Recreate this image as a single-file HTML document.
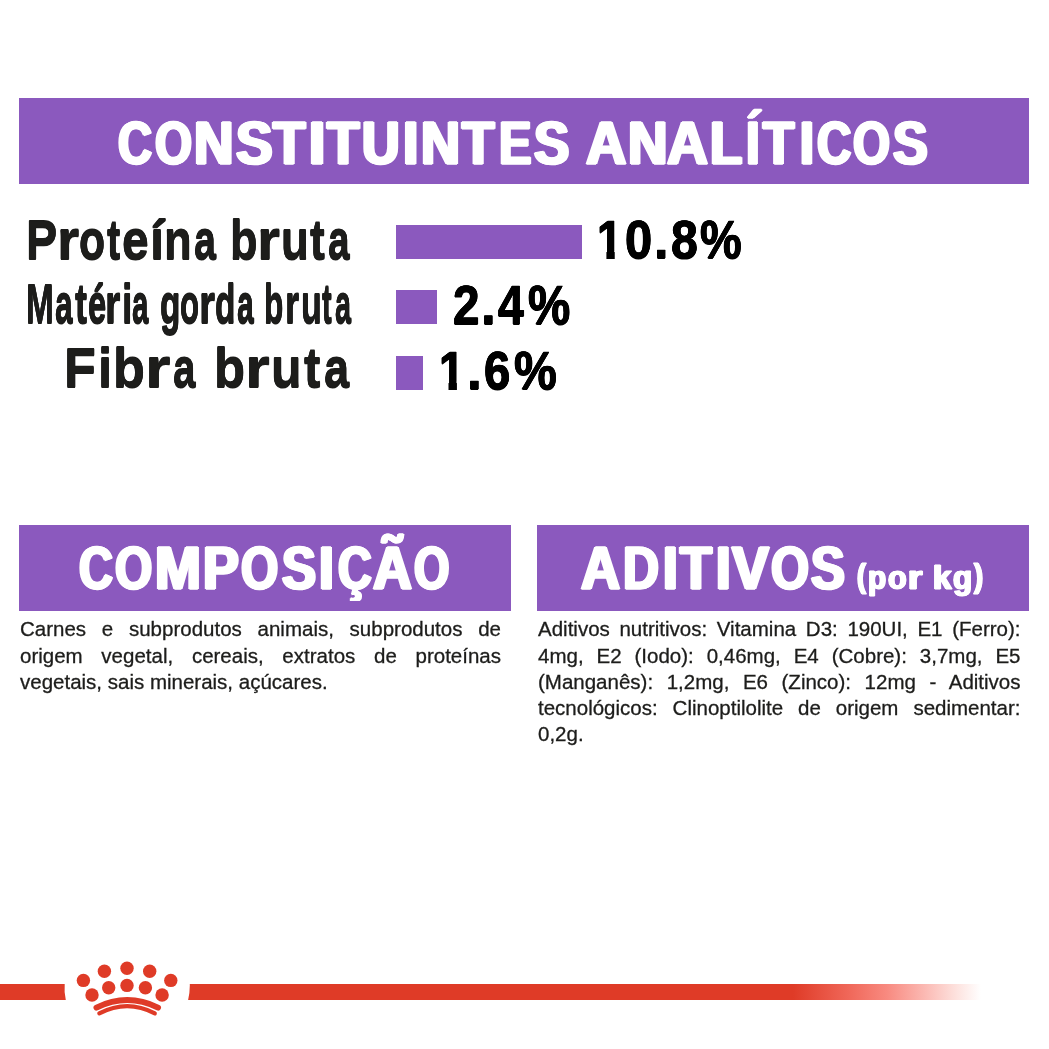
<!DOCTYPE html>
<html lang="pt">
<head>
<meta charset="utf-8">
<title>Constituintes analíticos</title>
<style>
  html, body { margin: 0; padding: 0; }
  body { width: 1049px; height: 1049px; background: #fff; position: relative; overflow: hidden;
         font-family: "Liberation Sans", Arial, sans-serif; }
  .abs { position: absolute; }
  .bar { position: absolute; background: #8b59be; }
  .t { position: absolute; white-space: pre; line-height: 1; font-weight: bold; }
  .t span { display: inline-block; transform-origin: 0 0; }
  .hd { color:#fff; -webkit-text-stroke:1.5px #fff; text-shadow:1.0px 0 0 #fff, -1.0px 0 0 #fff, 2.0px 0 0 #fff, -2.0px 0 0 #fff; }
  .hs { color:#fff; -webkit-text-stroke:1.0px #fff; text-shadow:0.6px 0 0 #fff, -0.6px 0 0 #fff, 1.2px 0 0 #fff, -1.2px 0 0 #fff; }
  .lb { color:#1d1d1b; -webkit-text-stroke:0.6px #1d1d1b; text-shadow:0 1.0px 0 #1d1d1b, 0 -1.0px 0 #1d1d1b; }
  .val { color:#000; -webkit-text-stroke:0.6px #000; text-shadow:0.5px 0 0 #000, -0.5px 0 0 #000, 0 0.5px 0 #000, 0 -0.5px 0 #000; }
  .one { clip-path: polygon(0 0,100% 0,100% 0.70em,calc(0.37em + 1.2px) 0.70em,calc(0.37em + 1.2px) 100%,calc(0.23em - 1.2px) 100%,calc(0.23em - 1.2px) 0.70em,0 0.70em); }
  .ced { clip-path: inset(-12px -12px -2.5px -12px); }
  .body { position: absolute; font-size: 20.5px; line-height: 26.2px; color: #1d1d1b; font-weight: normal; -webkit-text-stroke: 0.3px #1d1d1b; }
  .body p { margin: 0; white-space: nowrap; }
  .j { text-align: justify; text-align-last: justify; }
</style>
</head>
<body>
  <div class="bar" style="left:19px;top:98px;width:1010px;height:86px"></div>
  <div class="t hd" style="left:118.23px;top:113px;font-size:61.01px"><span style="width:36.890625px;transform:scaleX(0.7721)">C</span><span style="width:38.6875px;transform:scaleX(0.7804)">O</span><span style="width:42.390625px;transform:scaleX(0.8975)">N</span><span style="width:36.875px;transform:scaleX(0.9)">S</span><span style="width:35.609375px;transform:scaleX(0.8675)">T</span><span style="width:18.28125px;transform:scaleX(0.9538)">I</span><span style="width:35.03125px;transform:scaleX(0.8675)">T</span><span style="width:41.390625px;transform:scaleX(0.8525)">U</span><span style="width:17.34375px;transform:scaleX(0.9077)">I</span><span style="width:41.34375px;transform:scaleX(0.885)">N</span><span style="width:36.53125px;transform:scaleX(0.8675)">T</span><span style="width:35.09375px;transform:scaleX(0.8)">E</span><span style="width:51.90625px;transform:scaleX(0.8675)">S </span><span style="width:42.203125px;transform:scaleX(0.9159)">A</span><span style="width:39.59375px;transform:scaleX(0.8975)">N</span><span style="width:42.671875px;transform:scaleX(0.9295)">A</span><span style="width:36px;transform:scaleX(0.8657)">L</span><span style="width:17.359375px;transform:scaleX(0.8077)">Í</span><span style="width:36.53125px;transform:scaleX(0.835)">T</span><span style="width:16.65625px;transform:scaleX(0.8154)">I</span><span style="width:36.59375px;transform:scaleX(0.7791)">C</span><span style="width:39.78125px;transform:scaleX(0.7804)">O</span><span style="transform:scaleX(0.8525)">S</span></div>

  <div class="t lb" style="left:26.25px;top:213px;font-size:55.07px"><span style="width:30.453125px;transform:scaleX(0.85)">P</span><span style="width:22.046875px;transform:scaleX(1.0333)">r</span><span style="width:28.25px;transform:scaleX(0.7767)">o</span><span style="width:15.15625px;transform:scaleX(0.7222)">t</span><span style="width:27.875px;transform:scaleX(0.8741)">e</span><span style="width:13.90625px;transform:scaleX(0.9222)">í</span><span style="width:30.046875px;transform:scaleX(0.825)">n</span><span style="width:36.359375px;transform:scaleX(0.7167)">a </span><span style="width:27.140625px;transform:scaleX(0.8172)">b</span><span style="width:23.71875px;transform:scaleX(1.0722)">r</span><span style="width:28.5px;transform:scaleX(0.8296)">u</span><span style="width:18.09375px;transform:scaleX(0.8056)">t</span><span style="transform:scaleX(0.7067)">a</span></div>
  <div class="t lb" style="left:26.29px;top:277px;font-size:55.07px"><span style="width:29.125px;transform:scaleX(0.605)">M</span><span style="width:19.78125px;transform:scaleX(0.5767)">a</span><span style="width:12.40625px;transform:scaleX(0.6556)">t</span><span style="width:17.625px;transform:scaleX(0.5963)">é</span><span style="width:16.796875px;transform:scaleX(0.7222)">r</span><span style="width:10.234375px;transform:scaleX(0.6889)">i</span><span style="width:28.03125px;transform:scaleX(0.5367)">a </span><span style="width:20.078125px;transform:scaleX(0.6071)">g</span><span style="width:18.875px;transform:scaleX(0.5667)">o</span><span style="width:16.140625px;transform:scaleX(0.75)">r</span><span style="width:21.171875px;transform:scaleX(0.6071)">d</span><span style="width:27.921875px;transform:scaleX(0.55)">a </span><span style="width:20.25px;transform:scaleX(0.5759)">b</span><span style="width:15.8125px;transform:scaleX(0.6611)">r</span><span style="width:21.453125px;transform:scaleX(0.6185)">u</span><span style="width:12.78125px;transform:scaleX(0.5278)">t</span><span style="transform:scaleX(0.5233)">a</span></div>
  <div class="t lb" style="left:64.47px;top:341px;font-size:55.36px"><span style="width:33.15625px;transform:scaleX(0.9448)">F</span><span style="width:15.546875px;transform:scaleX(0.9222)">i</span><span style="width:31.375px;transform:scaleX(0.9448)">b</span><span style="width:28.125px;transform:scaleX(1.1833)">r</span><span style="width:41.265625px;transform:scaleX(0.7323)">a </span><span style="width:31.3125px;transform:scaleX(0.9207)">b</span><span style="width:26.140625px;transform:scaleX(1.15)">r</span><span style="width:32.703125px;transform:scaleX(0.9036)">u</span><span style="width:19.890625px;transform:scaleX(0.8889)">t</span><span style="transform:scaleX(0.8161)">a</span></div>

  <div class="bar" style="left:396px;top:225px;width:186px;height:34px"></div>
  <div class="bar" style="left:396px;top:290px;width:41px;height:34px"></div>
  <div class="bar" style="left:396px;top:356px;width:27px;height:34px"></div>

  <div class="t val" style="left:596.71px;top:213px;font-size:54.41px"><span class="one" style="width:27.796875px;transform:scaleX(0.8316)">1</span><span style="width:29.21875px;transform:scaleX(0.8963)">0</span><span style="width:16.890625px;transform:scaleX(0.9556)">.</span><span style="width:29.71875px;transform:scaleX(0.8857)">8</span><span style="transform:scaleX(0.8617)">%</span></div>
  <div class="t val" style="left:452.93px;top:278px;font-size:54.71px"><span style="width:28.375px;transform:scaleX(0.8714)">2</span><span style="width:16.796875px;transform:scaleX(0.9667)">.</span><span style="width:29.421875px;transform:scaleX(0.8484)">4</span><span style="transform:scaleX(0.8681)">%</span></div>
  <div class="t val" style="left:439.47px;top:343px;font-size:54.26px"><span class="one" style="width:27.796875px;transform:scaleX(0.8421)">1</span><span style="width:16.96875px;transform:scaleX(0.9778)">.</span><span style="width:29.671875px;transform:scaleX(0.8714)">6</span><span style="transform:scaleX(0.887)">%</span></div>

  <div class="bar" style="left:19px;top:525px;width:492px;height:86px"></div>
  <div class="t hd" style="left:78.53px;top:537px;font-size:61.45px"><span style="width:36.59375px;transform:scaleX(0.7651)">C</span><span style="width:39.890625px;transform:scaleX(0.7804)">O</span><span style="width:48.140625px;transform:scaleX(0.8957)">M</span><span style="width:38.171875px;transform:scaleX(0.8744)">P</span><span style="width:40.46875px;transform:scaleX(0.7804)">O</span><span style="width:37.46875px;transform:scaleX(0.8293)">S</span><span style="width:18.375px;transform:scaleX(0.8692)">I</span><span class="ced" style="width:35.359375px;transform:scaleX(0.7605)">Ç</span><span style="width:40.65625px;transform:scaleX(0.8756)">Ã</span><span style="transform:scaleX(0.7413)">O</span></div>

  <div class="bar" style="left:537px;top:525px;width:492px;height:86px"></div>
  <div class="t hd" style="left:580.6px;top:537px;font-size:61.45px"><span style="width:42.375px;transform:scaleX(0.88)">A</span><span style="width:39.609375px;transform:scaleX(0.8119)">D</span><span style="width:17.765625px;transform:scaleX(0.8615)">I</span><span style="width:35.34375px;transform:scaleX(0.85)">T</span><span style="width:16.5px;transform:scaleX(0.8538)">I</span><span style="width:38.40625px;transform:scaleX(0.9)">V</span><span style="width:40.203125px;transform:scaleX(0.7957)">O</span><span style="transform:scaleX(0.8244)">S </span></div>
  <div class="t hs" style="left:857.4px;top:561px;font-size:33.5px"><span style="width:10.921875px;transform:translateY(-2px) scaleX(0.8)">(</span><span style="width:20.171875px;transform:scaleX(0.8842)">p</span><span style="width:19.609375px;transform:scaleX(0.91)">o</span><span style="width:24.8125px;transform:scaleX(1.1)">r </span><span style="width:20.078125px;transform:scaleX(0.9895)">k</span><span style="width:20.609375px;transform:scaleX(0.9368)">g</span><span style="transform:translateY(-2px) scaleX(0.8083)">)</span></div>

  <div class="body" style="left:20px;top:616.3px;width:481px">
    <p class="j">Carnes e subprodutos animais, subprodutos de</p>
    <p class="j">origem vegetal, cereais, extratos de proteínas</p>
    <p>vegetais, sais minerais, açúcares.</p>
  </div>

  <div class="body" style="left:538px;top:616.3px;width:482.5px">
    <p class="j">Aditivos nutritivos: Vitamina D3: 190UI, E1 (Ferro):</p>
    <p class="j">4mg, E2 (Iodo): 0,46mg, E4 (Cobre): 3,7mg, E5</p>
    <p class="j">(Manganês): 1,2mg, E6 (Zinco): 12mg - Aditivos</p>
    <p class="j">tecnológicos: Clinoptilolite de origem sedimentar:</p>
    <p>0,2g.</p>
  </div>

  <svg class="abs" style="left:0;top:940px" width="1049" height="100" viewBox="0 940 1049 100">
    <defs>
      <linearGradient id="fade" x1="793" y1="0" x2="981" y2="0" gradientUnits="userSpaceOnUse">
        <stop offset="0" stop-color="#df3b27"/>
        <stop offset="0.3" stop-color="#f0685a"/>
        <stop offset="0.5" stop-color="#f88a80"/>
        <stop offset="0.7" stop-color="#fbb9b3"/>
        <stop offset="0.86" stop-color="#fde0dc"/>
        <stop offset="1" stop-color="#ffffff"/>
      </linearGradient>
    </defs>
    <path d="M0 984 H64.7 Q64 992 65.8 1000 H0 Z" fill="#df3b27"/>
    <path d="M189.8 984 H793 V1000 H188.1 Q190 992 189.8 984 Z" fill="#df3b27"/>
    <rect x="793" y="984" width="188" height="16" fill="url(#fade)"/>
    <g fill="#df3b27">
      <circle cx="83.4" cy="980.4" r="6.7"/>
      <circle cx="104.4" cy="971.3" r="6.7"/>
      <circle cx="127" cy="968.3" r="6.7"/>
      <circle cx="149.7" cy="971.3" r="6.7"/>
      <circle cx="170.8" cy="980.4" r="6.7"/>
      <circle cx="92" cy="995" r="6.7"/>
      <circle cx="108.7" cy="987.7" r="6.7"/>
      <circle cx="127" cy="985.4" r="6.7"/>
      <circle cx="145.4" cy="987.7" r="6.7"/>
      <circle cx="162.1" cy="995" r="6.7"/>
    </g>
    <g fill="none" stroke="#df3b27" stroke-linecap="round">
      <path d="M96.5 1007.6 Q127.2 992.6 158 1007.6" stroke-width="6"/>
      <path d="M99.3 1013.4 Q127.2 998.9 154.8 1013.4" stroke-width="4.2"/>
    </g>
  </svg>
</body>
</html>
